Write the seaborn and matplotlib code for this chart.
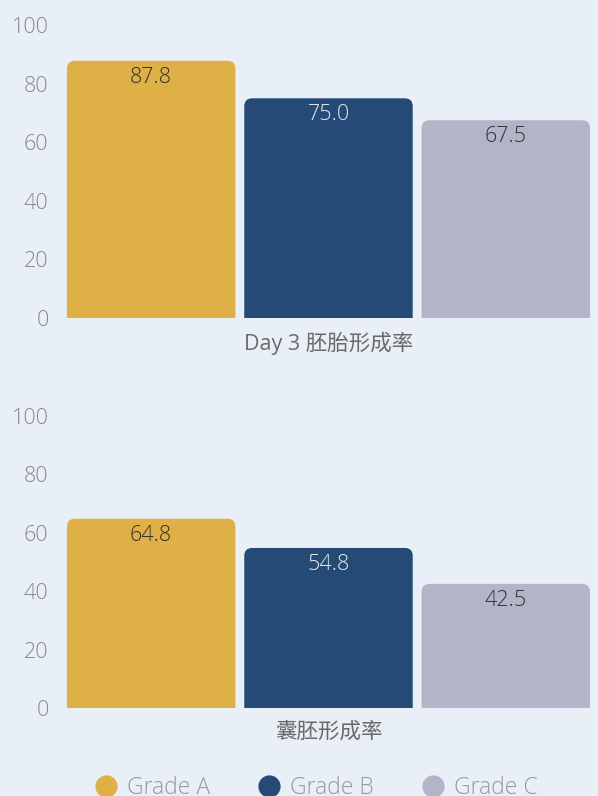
import matplotlib
matplotlib.use("Agg")
import matplotlib.pyplot as plt
import seaborn as sns
import pandas as pd
from matplotlib.path import Path
from matplotlib.patches import PathPatch
from matplotlib.lines import Line2D

grades = ["Grade A", "Grade B", "Grade C"]
day3_rate = [87.8, 75.0, 67.5]
blast_rate = [64.8, 54.8, 42.5]
panel_titles = ["Day 3 胚胎形成率", "囊胚形成率"]
yticks = [0, 20, 40, 60, 80, 100]
colors = ["#DEB046", "#264A76", "#B3B4C7"]
label_colors = ["#333333", "#E2E8F0", "#333333"]

BG = "#E8EFF6"
sns.set_theme(style="white")
plt.rcParams["font.family"] = ["Open Sans", "Noto Sans CJK SC", "DejaVu Sans"]

fig = plt.figure(figsize=(5.98, 7.96), dpi=100, facecolor=BG)
ax1 = fig.add_axes([0.1045, 0.6005, 0.8896, 0.368])
ax2 = fig.add_axes([0.1045, 0.1106, 0.8896, 0.3668])

def rounded_top(ax, r_px=8):
    fig.canvas.draw()
    inv = ax.transData.inverted()
    p0 = inv.transform((0, 0))
    p1 = inv.transform((r_px, r_px))
    rx, ry = abs(p1[0] - p0[0]), abs(p1[1] - p0[1])
    for p in list(ax.patches):
        x, y = p.get_x(), p.get_y()
        w, h = p.get_width(), p.get_height()
        fc = p.get_facecolor()
        verts = [(x, y), (x, y + h - ry), (x, y + h), (x + rx, y + h),
                 (x + w - rx, y + h), (x + w, y + h), (x + w, y + h - ry),
                 (x + w, y), (x, y)]
        codes = [Path.MOVETO, Path.LINETO, Path.CURVE3, Path.CURVE3,
                 Path.LINETO, Path.CURVE3, Path.CURVE3, Path.LINETO, Path.CLOSEPOLY]
        p.set_visible(False)
        ax.add_patch(PathPatch(Path(verts, codes), facecolor=fc, edgecolor="none", zorder=2))

for ax, vals, title in [(ax1, day3_rate, panel_titles[0]), (ax2, blast_rate, panel_titles[1])]:
    df = pd.DataFrame({"grade": grades, "value": vals})
    sns.barplot(data=df, x="grade", y="value", hue="grade", palette=colors,
                width=0.95, legend=False, ax=ax, saturation=1)
    ax.set_facecolor(BG)
    ax.set_xlim(-0.5, 2.5)
    ax.set_ylim(0, 100)
    ax.set_yticks(yticks)
    ax.set_yticklabels([str(t) for t in yticks], fontweight="light")
    ax.tick_params(axis="y", length=0, pad=10, labelsize=15.5, labelcolor="#888888")
    ax.set_xticks([])
    ax.set_ylabel("")
    ax.set_xlabel(title, fontsize=15.5, color="#6A6A6A", labelpad=10, fontweight="medium")
    for s in ax.spines.values():
        s.set_visible(False)
    for i, v in enumerate(vals):
        ax.annotate(f"{v:.1f}", (i, v), xytext=(0, -12), textcoords="offset points",
                    ha="center", va="center", fontsize=15.5, fontweight="light",
                    color=label_colors[i], zorder=3)
    rounded_top(ax)

handles = [Line2D([], [], marker="o", linestyle="none", markersize=16,
                  markerfacecolor=c, markeredgecolor="none") for c in colors]
leg = fig.legend(handles, grades, loc="center", bbox_to_anchor=(0.519, 0.01), ncol=3,
                 frameon=False, labelcolor="#999999", handletextpad=-0.08,
                 columnspacing=1.59, prop={"size": 16.5, "weight": "light"})

fig.savefig("out.png", dpi=100, facecolor=BG)
